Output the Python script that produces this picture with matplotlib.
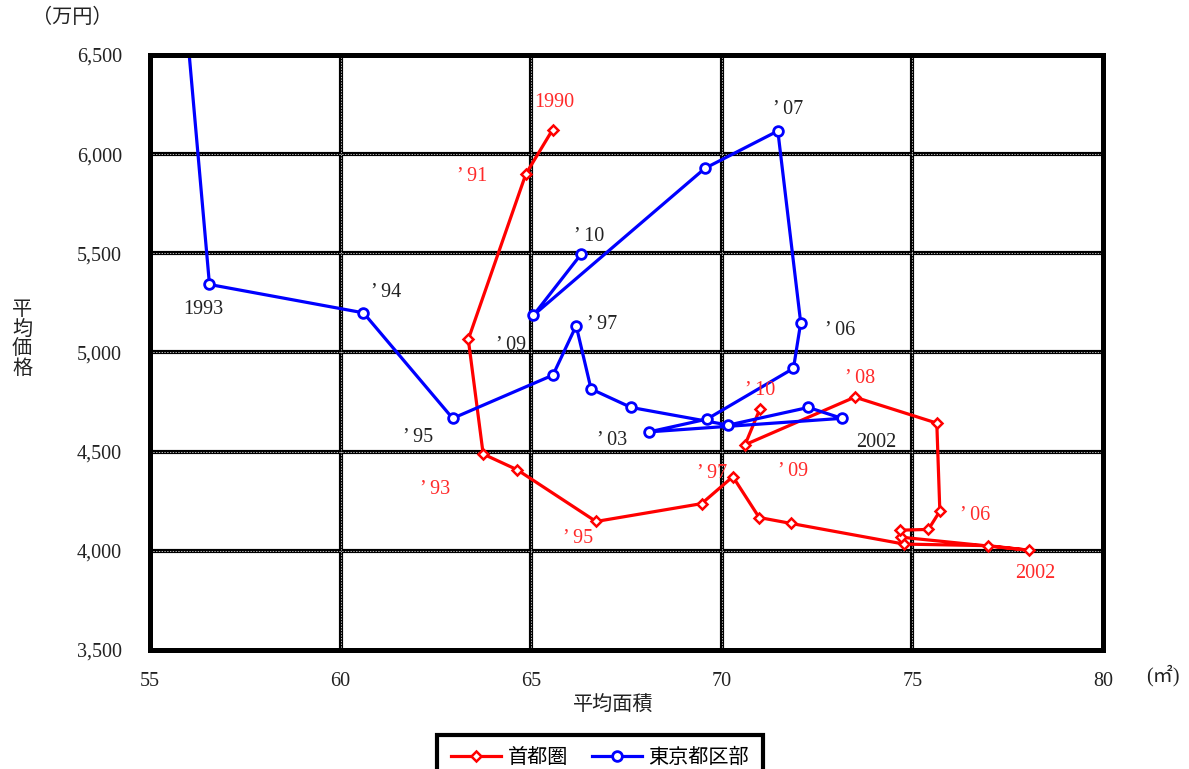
import matplotlib
matplotlib.use("Agg")
import matplotlib.pyplot as plt
from matplotlib.lines import Line2D

FONT = ["Liberation Serif", "Noto Sans CJK JP", "DejaVu Sans"]
plt.rcParams["font.family"] = FONT

# 首都圏: 1990-2010
metro_years = list(range(1990, 2011))
metro_area = [65.56, 64.86, 63.35, 63.74, 64.63, 66.70, 69.47, 70.29, 70.98, 71.82,
              74.78, 76.99, 78.07, 74.69, 74.67, 75.42, 75.72, 75.64, 73.49, 70.61, 71.00]
metro_price = [6123, 5900, 5066, 4488, 4409, 4148, 4238, 4374, 4168, 4138,
               4034, 4026, 4003, 4069, 4104, 4108, 4200, 4644, 4775, 4535, 4716]

# 東京都区部: 1992-2010
ward_years = list(range(1992, 2011))
ward_area = [55.80, 56.56, 60.60, 62.94, 65.57, 66.18, 66.57, 67.62, 70.17, 72.27,
             73.15, 68.10, 69.61, 71.88, 72.07, 71.47, 69.56, 65.06, 66.31]
ward_price = [7000, 5343, 5200, 4668, 4886, 5135, 4816, 4723, 4634, 4723,
              4668, 4600, 4664, 4920, 5150, 6117, 5929, 5188, 5496]

x_ticks = [55, 60, 65, 70, 75, 80]
y_ticks = [3500, 4000, 4500, 5000, 5500, 6000, 6500]

# year labels: (year, text, offset in pixels)
metro_labels = [(1990, "1990", (2, 27)), (1991, "’ 91", (-54, -3)), (1993, "’ 93", (-48, -35)),
                (1995, "’ 95", (-18, -17)), (1997, "’ 97", (-21, 3)), (2009, "’ 09", (48, -27)),
                (2010, "’ 10", (0, 18)), (2008, "’ 08", (5, 19)), (2006, "’ 06", (35, -4)),
                (2002, "2002", (6, -23))]
ward_labels = [(1993, "1993", (-6, -25)), (1994, "’ 94", (23, 20)), (1995, "’ 95", (-35, -19)),
               (1997, "’ 97", (26, 1)), (2009, "’ 09", (-22, -30)), (2010, "’ 10", (8, 18)),
               (2007, "’ 07", (10, 21)), (2006, "’ 06", (39, -8)), (2003, "’ 03", (-37, -9)),
               (2002, "2002", (34, -24))]

RED = "#ff0000"
LABEL_RED = "#ff2a2a"
BLUE = "#0000ff"
TEXT = "#222222"
FS = 14.5

fig = plt.figure(figsize=(11.89, 7.69), dpi=100)
ax = fig.add_axes([150 / 1189, 1 - 650 / 769, 953 / 1189, 595 / 769])
ax.set_xlim(55, 80)
ax.set_ylim(3500, 6500)

# grid: thick black lines with a fine white dash through them
for xv in x_ticks[1:-1]:
    ax.axvline(xv, color="black", lw=3.0, zorder=1)
    ax.axvline(xv, color="white", lw=0.5, dashes=(2, 2), zorder=1.1)
for yv in y_ticks[1:-1]:
    ax.axhline(yv, color="black", lw=3.0, zorder=1)
    ax.axhline(yv, color="white", lw=0.5, dashes=(2, 2), zorder=1.1)

ax.plot(metro_area, metro_price, color=RED, lw=2.3, marker="D", ms=5.5,
        mfc="white", mec=RED, mew=1.8, zorder=3, label="首都圏")
ax.plot(ward_area, ward_price, color=BLUE, lw=2.3, marker="o", ms=7,
        mfc="white", mec=BLUE, mew=2, zorder=4, label="東京都区部")

for yr, txt, off in metro_labels:
    i = metro_years.index(yr)
    ax.annotate(txt, (metro_area[i], metro_price[i]), xytext=off, textcoords="offset pixels",
                ha="center", va="center", color=LABEL_RED, fontsize=FS, zorder=5)
for yr, txt, off in ward_labels:
    i = ward_years.index(yr)
    ax.annotate(txt, (ward_area[i], ward_price[i]), xytext=off, textcoords="offset pixels",
                ha="center", va="center", color=TEXT, fontsize=FS, zorder=5)

ax.set_xticks(x_ticks)
ax.set_yticks(y_ticks)
ax.set_xticklabels([str(v) for v in x_ticks], fontsize=FS, color=TEXT)
ax.set_yticklabels([f"{v:,}" for v in y_ticks], fontsize=FS, color=TEXT)
ax.tick_params(axis="both", length=0)
ax.tick_params(axis="y", pad=20)
ax.tick_params(axis="x", pad=16)
for sp in ax.spines.values():
    sp.set_linewidth(3.6)
    sp.set_color("black")
    sp.set_zorder(6)

fig.text(1163 / 1189, 1 - 676 / 769, "(㎡)", ha="center", va="center", fontsize=FS,
         color=TEXT)
fig.text(72 / 1189, 1 - 18 / 769, "（万円）", ha="center", va="center", fontsize=FS,
         color=TEXT)
fig.text(22 / 1189, 1 - 340 / 769, "平\n均\n価\n格", ha="center", va="center", fontsize=FS,
         color=TEXT, linespacing=1.05)
fig.text(613 / 1189, 1 - 706 / 769, "平均面積", ha="center", va="center", fontsize=FS,
         color=TEXT)

handles = [Line2D([], [], color=RED, lw=2.3, marker="D", ms=5.5, mfc="white", mec=RED, mew=1.8),
           Line2D([], [], color=BLUE, lw=2.3, marker="o", ms=7, mfc="white", mec=BLUE, mew=2)]
leg = fig.legend(handles, ["首都圏", "東京都区部"], loc="upper left",
                 bbox_to_anchor=(437 / 1189, 1 - 735 / 769), ncol=2, fontsize=FS,
                 frameon=True, fancybox=False, edgecolor="black", framealpha=1,
                 handlelength=2.5, columnspacing=1.2, handletextpad=0.3,
                 borderpad=0.7, borderaxespad=0)
leg.get_frame().set_linewidth(3)

fig.savefig("out.png", dpi=100)
